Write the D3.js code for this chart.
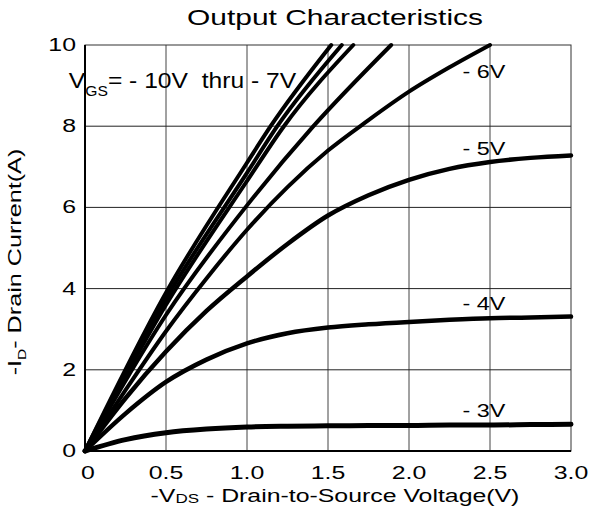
<!DOCTYPE html>
<html>
<head>
<meta charset="utf-8">
<script src="https://cdn.jsdelivr.net/npm/d3@7"></script>
<style>
  body { margin: 0; background: #fff; }
  text { font-family: "Liberation Sans", Arial, sans-serif; fill: #000; white-space: pre; }
</style>
</head>
<body>
<script>
// output characteristics
var vds = [0, 0.25, 0.5, 0.75, 1.0, 1.25, 1.5, 1.75, 2.0, 2.25, 2.5, 2.75, 3.0];
var id3V = [0, 0.28, 0.45, 0.54, 0.59, 0.61, 0.62, 0.63, 0.63, 0.64, 0.64, 0.65, 0.66];
var id4V = [0, 0.92, 1.7, 2.25, 2.65, 2.9, 3.04, 3.12, 3.18, 3.23, 3.27, 3.29, 3.31];
var id5V = [0, 1.3, 2.45, 3.45, 4.3, 5.1, 5.8, 6.3, 6.68, 6.95, 7.12, 7.22, 7.28];
var id6V = [0, 1.5, 2.95, 4.25, 5.45, 6.5, 7.4, 8.15, 8.85, 9.45, 10.0];

var vds7V = [0, 0.5, 1.0, 1.41, 1.89];
var id7V = [0, 3.35, 6.05, 8, 10];
var vds8V = [0, 0.5, 1.0, 1.228, 1.656];
var id8V = [0, 3.6, 6.65, 8, 10];
var vds9V = [0, 0.5, 1.0, 1.187, 1.585];
var id9V = [0, 3.75, 6.85, 8, 10];
var vds10V = [0, 0.5, 1.0, 1.146, 1.52];
var id10V = [0, 3.9, 7.1, 8, 10];

var xTicks = [0, 0.5, 1.0, 1.5, 2.0, 2.5, 3.0];
var yTicks = [0, 2, 4, 6, 8, 10];

// curve labels: text, anchor in data units
var curveLabels = ['- 3V', '- 4V', '- 5V', '- 6V'];
var labelV = [2.33, 2.33, 2.33, 2.33];
var labelI = [0.84, 3.47, 7.29, 9.19];

function zip(xs, ys) {
  return ys.map(function(y, i) { return [xs[i], y]; });
}

var curves = [
  { pts: zip(vds, id3V), w: 5 },
  { pts: zip(vds, id4V), w: 4.5 },
  { pts: zip(vds, id5V), w: 4.5 },
  { pts: zip(vds, id6V), w: 4 },
  { pts: zip(vds7V, id7V), w: 4 },
  { pts: zip(vds8V, id8V), w: 4 },
  { pts: zip(vds9V, id9V), w: 4 },
  { pts: zip(vds10V, id10V), w: 4 }
];

var W = 591, H = 515;
var margin = { left: 85, right: 20, top: 45, bottom: 64 };

var svg = d3.select('body').append('svg')
  .attr('width', W).attr('height', H);

var x = d3.scaleLinear().domain([0, 3]).range([margin.left, W - margin.right]);
var y = d3.scaleLinear().domain([0, 10]).range([H - margin.bottom, margin.top]);

// stretched text, like the original
function label(g, str, px, py, opts) {
  opts = opts || {};
  var t = g.append('text')
    .attr('transform', 'translate(' + px + ',' + py + ')' +
      (opts.rot ? ' rotate(' + opts.rot + ')' : '') +
      ' scale(' + (opts.sx || 1.4) + ',1)')
    .attr('text-anchor', opts.anchor || 'start')
    .style('font-size', (opts.size || 17) + 'px');
  if (str) t.text(str);
  return t;
}

// grid
svg.append('g').selectAll('line.v')
  .data(xTicks.slice(1, -1))
  .enter().append('line')
  .attr('x1', function(d) { return x(d); })
  .attr('x2', function(d) { return x(d); })
  .attr('y1', y(0)).attr('y2', y(10))
  .attr('stroke', '#444').attr('stroke-width', 1);

svg.append('g').selectAll('line.h')
  .data(yTicks.slice(1, -1))
  .enter().append('line')
  .attr('x1', x(0)).attr('x2', x(3))
  .attr('y1', function(d) { return y(d); })
  .attr('y2', function(d) { return y(d); })
  .attr('stroke', '#222').attr('stroke-width', 1);

svg.append('rect')
  .attr('x', x(0)).attr('y', y(10))
  .attr('width', x(3) - x(0)).attr('height', y(0) - y(10))
  .attr('fill', 'none').attr('stroke', '#333').attr('stroke-width', 1);

svg.append('line')
  .attr('x1', x(0)).attr('x2', x(0)).attr('y1', y(0)).attr('y2', y(10))
  .attr('stroke', '#000').attr('stroke-width', 2);
svg.append('line')
  .attr('x1', x(0)).attr('x2', x(3)).attr('y1', y(0)).attr('y2', y(0))
  .attr('stroke', '#000').attr('stroke-width', 2);

// curves
var line = d3.line()
  .x(function(d) { return x(d[0]); })
  .y(function(d) { return y(d[1]); })
  .curve(d3.curveMonotoneX);

svg.append('g').selectAll('path')
  .data(curves)
  .enter().append('path')
  .attr('d', function(d) { return line(d.pts); })
  .attr('fill', 'none')
  .attr('stroke', '#000')
  .attr('stroke-width', function(d) { return d.w; })
  .attr('stroke-linecap', 'round');

// tick labels
var tl = svg.append('g');
xTicks.forEach(function(v) {
  label(tl, v === 0 ? '0' : d3.format('.1f')(v), x(v) + (v === 0 ? 3 : 0), 479, { anchor: 'middle', size: 17.5, sx: 1.42 });
});
yTicks.forEach(function(v) {
  label(tl, String(v), 76, y(v) + 6, { anchor: 'end', size: 17.5, sx: 1.42 });
});

// curve labels
curveLabels.forEach(function(s, i) {
  label(svg, s, x(labelV[i]), y(labelI[i]), { size: 19, sx: 1.23 });
});

// VGS annotation
var ann = label(svg, null, x(-0.1), y(8.94), { size: 22, sx: 1.12 });
ann.append('tspan').text('V');
ann.append('tspan').attr('dy', 8).style('font-size', '14px').text('GS');
ann.append('tspan').attr('dy', -8).text('= - 10V  thru - 7V');

// title
label(svg, 'Output Characteristics', 335, 25, { anchor: 'middle', size: 22, sx: 1.36 });

// x axis title
var xt = label(svg, null, 335, 502, { anchor: 'middle', size: 17.5, sx: 1.42 });
xt.append('tspan').text('-V');
xt.append('tspan').attr('dy', 1).style('font-size', '12px').text('DS');
xt.append('tspan').attr('dy', -1).text(' - Drain-to-Source Voltage(V)');

// y axis title
var yt = label(svg, null, 21, 262, { anchor: 'middle', size: 18, sx: 1.4, rot: -90 });
yt.append('tspan').text('-I');
yt.append('tspan').attr('dy', 5).style('font-size', '11px').text('D');
yt.append('tspan').attr('dy', -5).text('- Drain Current(A)');
</script>
</body>
</html>
